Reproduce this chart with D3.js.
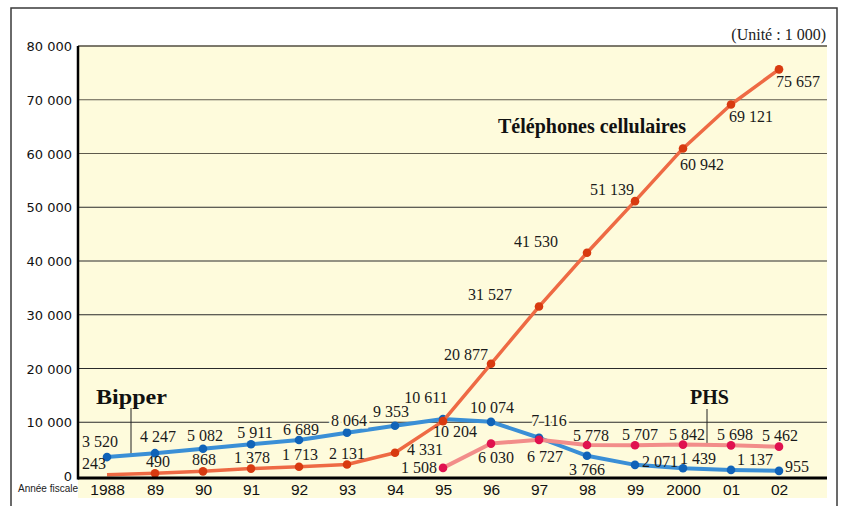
<!DOCTYPE html>
<html>
<head>
<meta charset="utf-8">
<script src="https://cdn.jsdelivr.net/npm/d3@7"></script>
<style>
  body { margin: 0; background: #fff; }
  .num { font-family: "Liberation Serif", serif; font-size: 16px; fill: #1a1a1a; }
  .halo { stroke: #fefbdc; stroke-width: 5px; paint-order: stroke; }
  .ytick { font-family: "DejaVu Sans", sans-serif; font-size: 13px; fill: #111; }
  .xtick { font-family: "Liberation Sans", Arial, sans-serif; font-size: 15.5px; fill: #111; }
  .title { font-family: "Liberation Serif", serif; font-weight: bold; font-size: 20px; fill: #111; }
</style>
</head>
<body>
<div class="chart"></div>
<script>
// data (unit: 1 000)
const years = ["1988", "89", "90", "91", "92", "93", "94", "95", "96", "97", "98", "99", "2000", "01", "02"];
const cellular = [243, 490, 868, 1378, 1713, 2131, 4331, 10204, 20877, 31527, 41530, 51139, 60942, 69121, 75657];
const bipper = [3520, 4247, 5082, 5911, 6689, 8064, 9353, 10611, 10074, 7116, 3766, 2071, 1439, 1137, 955];
const phs = [null, null, null, null, null, null, null, 1508, 6030, 6727, 5778, 5707, 5842, 5698, 5462];
const yTicks = [0, 10000, 20000, 30000, 40000, 50000, 60000, 70000, 80000];

// label placement per point [dx, dy, anchor, halo]
const cellLabelPos = [
  [-13, -6, "middle"], [3, -6, "middle"], [1, -6, "middle"], [1, -6, "middle"], [1, -7, "middle"],
  [0, -6, "middle"], [12, 2, "start"], [12, 16, "middle"], [-3, -4, "end"], [-27, -7, "end"],
  [-29, -6, "end"], [-1, -6, "end"], [-3, 22, "start"], [-2, 18, "start"], [-3, 18, "start"]
];
const bipLabelPos = [
  [-7, -10, "middle"], [3, -11, "middle"], [2, -8, "middle"], [4, -6, "middle"], [2, -5, "middle"],
  [2, -7, "middle", true], [-4, -9, "middle"], [-17, -16, "middle"], [1, -9, "middle"], [10, -12, "middle", true],
  [0, 19, "middle"], [7, 2, "start"], [-3, -4, "start"], [6, -5, "start"], [6, 1, "start"]
];
const phsLabelPos = [
  null, null, null, null, null, null, null,
  [-6, 5, "end"], [5, 19, "middle"], [6, 22, "middle"], [4, -4, "middle"],
  [5, -5, "middle"], [4, -5, "middle"], [4, -5, "middle"], [1, -6, "middle"]
];

const W = 843, H = 506;
const plot = { left: 78, right: 827, top: 46, bottom: 498 };

let fr = d3.formatLocale({ decimal: ".", thousands: " ", grouping: [3], currency: ["", ""] });
let fmt = fr.format(",d");

let svg = d3.select(".chart").append("svg").attr("width", W).attr("height", H);

let x = d3.scaleLinear().domain([0, years.length - 1]).range([107, 779]);
let y = d3.scaleLinear().domain([0, 80000]).range([476, 46]);

// outer frame
svg.append("rect")
  .attr("x", 11).attr("y", 8)
  .attr("width", 826).attr("height", 530)
  .attr("fill", "#fff").attr("stroke", "#3a3a3a").attr("stroke-width", 1.5);

// yellow plot background (includes the year labels strip)
svg.append("rect")
  .attr("x", plot.left).attr("y", plot.top)
  .attr("width", plot.right - plot.left).attr("height", plot.bottom - plot.top)
  .attr("fill", "#fefbdc");

// grid lines
svg.append("g").selectAll("line")
  .data(yTicks.filter((d) => d > 0))
  .enter().append("line")
  .attr("x1", plot.left).attr("x2", plot.right)
  .attr("y1", (d) => y(d)).attr("y2", (d) => y(d))
  .attr("stroke", (d) => (d >= 60000 ? "#5e5a4c" : "#2a2a2a"))
  .attr("stroke-width", 1.1);

// y axis labels
let yAxis = d3.axisLeft(y).tickValues(yTicks).tickFormat(fmt).tickSize(0).tickPadding(6);
let gy = svg.append("g").attr("transform", "translate(" + plot.left + ",0)").call(yAxis);
gy.select(".domain").remove();
gy.selectAll("text").attr("class", "ytick").attr("font-family", null).attr("font-size", null).attr("dy", "0.36em");

// x axis labels
let xAxis = d3.axisBottom(x).tickValues(d3.range(years.length)).tickFormat((i) => years[i]).tickSize(0).tickPadding(0);
let gx = svg.append("g").attr("transform", "translate(0,484)").call(xAxis);
gx.select(".domain").remove();
gx.selectAll("text").attr("class", "xtick").attr("font-family", null).attr("font-size", null);

svg.append("text")
  .attr("x", 18).attr("y", 492)
  .style("font-family", "Liberation Sans, Arial, sans-serif")
  .style("font-size", "10px").style("fill", "#222")
  .text("Année fiscale");

// leader lines for Bipper and PHS
svg.append("line")
  .attr("x1", x(0.5)).attr("x2", x(0.5))
  .attr("y1", 408).attr("y2", y((bipper[0] + bipper[1]) / 2))
  .attr("stroke", "#222").attr("stroke-width", 1);
svg.append("line")
  .attr("x1", x(12.5)).attr("x2", x(12.5))
  .attr("y1", 409).attr("y2", y((phs[12] + phs[13]) / 2))
  .attr("stroke", "#222").attr("stroke-width", 1);

let line = d3.line()
  .defined((d) => d != null)
  .x((d, i) => x(i))
  .y((d) => y(d));

function drawSeries(data, lineColor, dotColor, width, skipFirstDot) {
  svg.append("path")
    .datum(data)
    .attr("d", line)
    .attr("fill", "none")
    .attr("stroke", lineColor)
    .attr("stroke-width", width)
    .attr("stroke-linejoin", "round");
  svg.append("g").selectAll("circle")
    .data(data.map((v, i) => ({ v: v, i: i })).filter((d) => d.v != null && !(skipFirstDot && d.i === 0)))
    .enter().append("circle")
    .attr("cx", (d) => x(d.i))
    .attr("cy", (d) => y(d.v))
    .attr("r", 4.3)
    .attr("fill", dotColor);
}

drawSeries(bipper, "#3a8fd6", "#1063b8", 4, false);
drawSeries(phs, "#f28d8a", "#e0124f", 4, false);
drawSeries(cellular, "#ee6a44", "#d83a10", 3.5, true);

// axes lines
svg.append("line")
  .attr("x1", plot.left).attr("x2", plot.right)
  .attr("y1", plot.top).attr("y2", plot.top)
  .attr("stroke", "#4a463a").attr("stroke-width", 1.2);
svg.append("line")
  .attr("x1", plot.left).attr("x2", plot.right)
  .attr("y1", 478).attr("y2", 478)
  .attr("stroke", "#000").attr("stroke-width", 3);
svg.append("line")
  .attr("x1", plot.left).attr("x2", plot.left)
  .attr("y1", plot.top).attr("y2", 479.5)
  .attr("stroke", "#000").attr("stroke-width", 2.5);

// value labels
function drawLabels(data, pos) {
  svg.append("g").selectAll("text")
    .data(data.map((v, i) => ({ v: v, i: i, p: pos[i] })).filter((d) => d.v != null))
    .enter().append("text")
    .attr("class", (d) => (d.p[3] ? "num halo" : "num"))
    .attr("x", (d) => x(d.i) + d.p[0])
    .attr("y", (d) => y(d.v) + d.p[1])
    .attr("text-anchor", (d) => d.p[2])
    .text((d) => fmt(d.v));
}
drawLabels(cellular, cellLabelPos);
drawLabels(bipper, bipLabelPos);
drawLabels(phs, phsLabelPos);

// series titles
svg.append("text").attr("class", "title")
  .attr("x", 498).attr("y", 133)
  .text("Téléphones cellulaires");
svg.append("text").attr("class", "title")
  .attr("x", 96).attr("y", 404)
  .attr("textLength", 71).attr("lengthAdjust", "spacingAndGlyphs")
  .text("Bipper");
svg.append("text").attr("class", "title")
  .attr("x", 690).attr("y", 404)
  .text("PHS");

// unit note
svg.append("text")
  .attr("x", 826).attr("y", 40)
  .attr("text-anchor", "end")
  .style("font-family", "Liberation Serif, serif")
  .style("font-size", "16px").style("fill", "#222")
  .text("(Unité : 1 000)");
</script>
</body>
</html>
